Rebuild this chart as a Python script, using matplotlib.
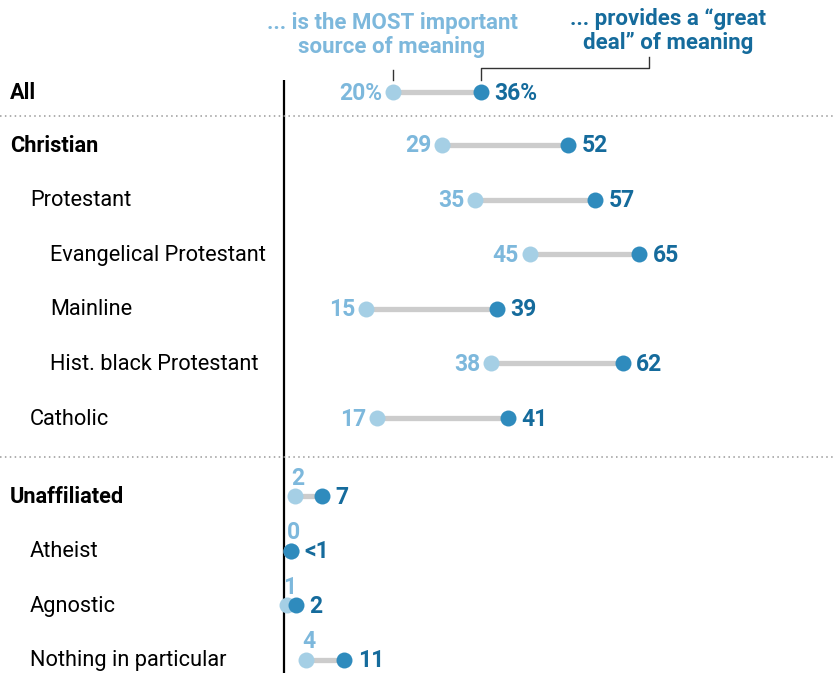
import matplotlib
matplotlib.use("Agg")
import matplotlib.pyplot as plt

names = ["All", "Christian", "Protestant", "Evangelical Protestant", "Mainline",
         "Hist. black Protestant", "Catholic", "Unaffiliated", "Atheist",
         "Agnostic", "Nothing in particular"]
most_important = [20, 29, 35, 45, 15, 38, 17, 2, 1.2, 0.5, 4]
great_deal = [36, 52, 57, 65, 39, 62, 41, 7, 1.2, 2.2, 11]
most_labels = ["20%", "29", "35", "45", "15", "38", "17", "2", "0", "1", "4"]
great_labels = ["36%", "52", "57", "65", "39", "62", "41", "7", "<1", "2", "11"]
indent = [0, 0, 1, 2, 2, 2, 1, 0, 1, 1, 1]
bold = [True, True, False, False, False, False, False, True, False, False, False]
label_above = [False] * 7 + [True] * 4

LIGHT = "#a5cfe5"
LIGHT_TXT = "#7db8dc"
DARK = "#2f8bbd"
DARK_TXT = "#156b9c"
LBL = "Roboto"
VAL = "Roboto"

W, H = 835, 673
fig = plt.figure(figsize=(W / 100, H / 100), dpi=100)
ax = fig.add_axes([0, 0, 1, 1])
x0, scale = 284, 5.46
ax.set_xlim(-x0 / scale, (W - x0) / scale)
ax.set_ylim(H, 0)
ax.axis("off")

# row positions (pixels)
ys = []
y = 92
for i in range(len(names)):
    if i == 0:
        ys.append(y)
        continue
    if i == 1:
        y += 53
    elif i == 7:
        y += 78
    else:
        y += 54.6
    ys.append(y)

def px(xp):
    return (xp - x0) / scale

# axis line
ax.plot([0, 0], [80, H], color="black", lw=1.6, zorder=1, solid_capstyle="butt")
# separators
for ysep in (116, 457):
    ax.plot([px(0), px(W)], [ysep, ysep], color="#999999", lw=1.1,
            linestyle=(0, (1, 2.2)), zorder=1)

for i, n in enumerate(names):
    yy = ys[i]
    a, b = most_important[i], great_deal[i]
    ax.plot([a, b], [yy, yy], color="#cccccc", lw=3.8, zorder=2, solid_capstyle="butt")
    ax.plot(a, yy, "o", ms=11.5, color=LIGHT, mec="none", zorder=3)
    ax.plot(b, yy, "o", ms=11.5, color=DARK, mec="none", zorder=4)
    ax.text(px(10 + 20 * indent[i]), yy + 1, n, ha="left", va="center",
            fontsize=15.7,
            fontweight="bold" if bold[i] else "normal",
            family=LBL, color="black")
    if label_above[i]:
        ax.text(a + 0.6, yy - 18, most_labels[i], ha="center", va="center",
                fontsize=16.5, fontweight="bold", family=VAL, color=LIGHT_TXT)
    else:
        ax.text(a - 2.0, yy + 1, most_labels[i], ha="right", va="center",
                fontsize=16.5, fontweight="bold", family=VAL, color=LIGHT_TXT)
    ax.text(b + 2.5, yy + 1, great_labels[i], ha="left", va="center",
            fontsize=16.5, fontweight="bold", family=VAL, color=DARK_TXT)

# headers
ax.text(px(392), 35, "... is the MOST important\nsource of meaning", ha="center",
        va="center", fontsize=16, fontweight="bold", family=VAL,
        color=LIGHT_TXT, linespacing=1.15)
ax.text(px(668), 31, "... provides a \u201cgreat\ndeal\u201d of meaning", ha="center",
        va="center", fontsize=16, fontweight="bold", family=VAL,
        color=DARK_TXT, linespacing=1.15)
# leader lines
ax.plot([most_important[0], most_important[0]], [70, 80], color="#333333", lw=1)
ax.plot([great_deal[0], great_deal[0], px(649), px(649)], [80, 68, 68, 57],
        color="#333333", lw=1)

fig.savefig("out.png", dpi=100)
